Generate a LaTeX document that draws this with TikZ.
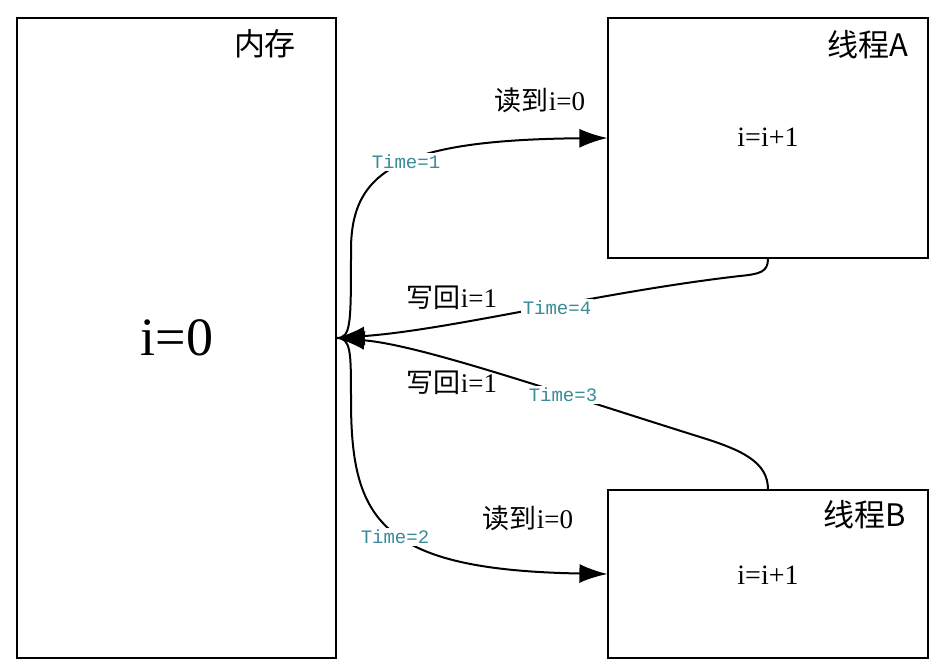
\documentclass[tikz,border=0pt]{standalone}
\usepackage{fontspec}
\setmainfont{Liberation Serif}
\newfontfamily\cjk{Noto Sans CJK SC}
\newfontfamily\monof{Liberation Mono}
\usetikzlibrary{arrows.meta}
\definecolor{timecol}{HTML}{3A8A9A}
\begin{document}
\begin{tikzpicture}[x=0.5pt,y=-0.5pt,
  box/.style={draw,line width=0.6pt,minimum width=160pt,inner sep=0pt},
  conn/.style={line width=1pt},
  arr/.style={conn,-{Latex[length=14pt,width=9.5pt]}},
  tlabel/.style={fill=white,text=timecol,font=\monof\fontsize{9.5}{10}\selectfont,inner sep=1pt},
  lbl/.style={font=\fontsize{13.5}{15}\selectfont,inner sep=0pt},
  title/.style={font=\cjk\fontsize{15.5}{17}\selectfont,inner sep=0pt}]
\useasboundingbox (0,0) rectangle (939,667);
\node[box,minimum width=159.5pt,minimum height=320pt] (mem) at (176.5,338) {};
\node[box,minimum height=120pt] (A) at (768,138) {};
\node[box,minimum height=84pt] (B) at (768,574) {};
\node[title] (memt) at (265,44) {内存};
\node[font=\fontsize{27}{30}\selectfont,inner sep=0pt] (memv) at (177,338) {i=0};
\node[title] (At) at (868,45) {线程A};
\node[lbl,font=\fontsize{14}{16}\selectfont] (Av) at (768,137) {i=i+1};
\node[title] (Bt) at (865,515) {线程B};
\node[lbl,font=\fontsize{14}{16}\selectfont] (Bv) at (768,575) {i=i+1};
% connectors
\draw[arr] (mem.east) .. controls (351,338) and (351,325) .. (351,250)
  .. controls (351,170) and (400,140) .. (A.west);
\draw[arr] (mem.east) .. controls (351,338) and (351,351) .. (351,400)
  .. controls (351,520) and (380,570) .. (B.west);
\draw[arr] (A.south) .. controls (768,272) and (760,274) .. (740,276)
  .. controls (600,292) and (450,330) .. (mem.east);
\draw[arr] (B.north) .. controls (768,462) and (742,450) .. (700,437)
  .. controls (550,390) and (420,345) .. (mem.east);
% labels
\node[tlabel] (t1) at (406,162) {Time=1};
\node[tlabel] (t2) at (395,537) {Time=2};
\node[tlabel] (t3) at (563,395) {Time=3};
\node[tlabel] (t4) at (557,308) {Time=4};
\node[lbl] (r1) at (540,100) {{\cjk 读到}i=0};
\node[lbl] (r2) at (528,518) {{\cjk 读到}i=0};
\node[lbl] (w1) at (452,298) {{\cjk 写回}i=1};
\node[lbl] (w2) at (452,383) {{\cjk 写回}i=1};
\end{tikzpicture}
\end{document}
